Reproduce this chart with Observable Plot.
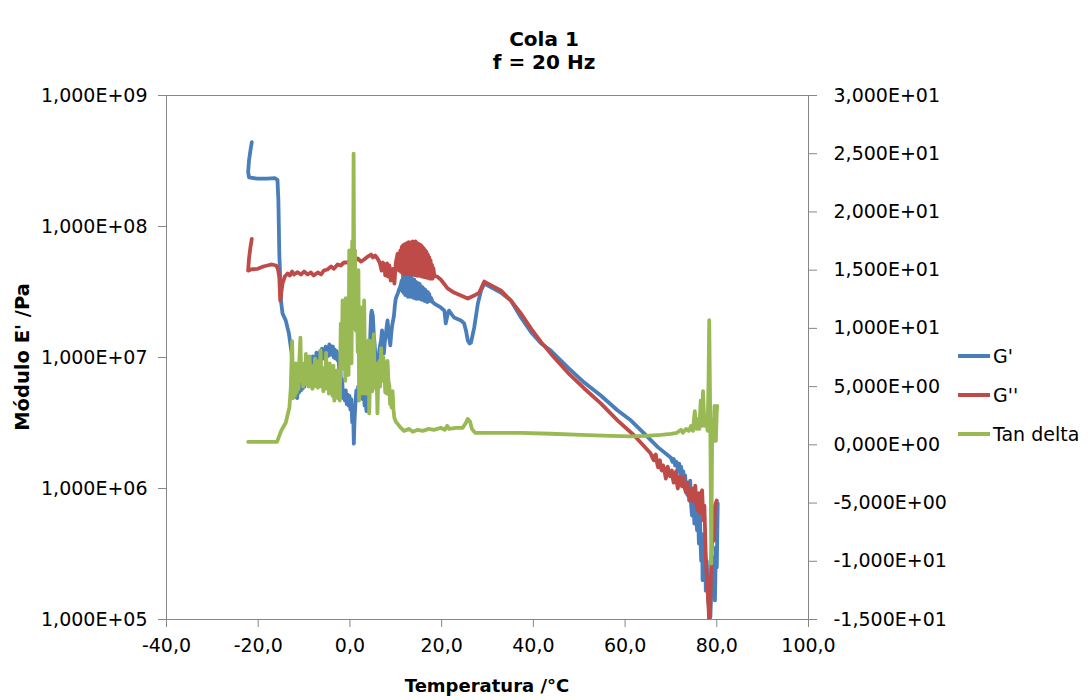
<!DOCTYPE html>
<html><head><meta charset="utf-8">
<script src="https://cdn.jsdelivr.net/npm/d3@7"></script>
<script src="https://cdn.jsdelivr.net/npm/@observablehq/plot@0.6"></script>
<style>
body{margin:0;background:#fff;font-family:"DejaVu Sans",sans-serif;color:#000}
#wrap{position:relative;width:1088px;height:700px;overflow:hidden}
#title{position:absolute;left:0;top:28px;width:1088px;text-align:center;font-weight:bold;font-size:20px;line-height:23px}
#chart{position:absolute;left:0;top:80px}
#xtitle{position:absolute;left:287px;width:400px;top:675px;text-align:center;font-weight:bold;font-size:18px}
#ytitle{position:absolute;left:22px;top:357px;transform:translate(-50%,-50%) rotate(-90deg);white-space:nowrap;font-weight:bold;font-size:19.5px}
.leg{position:absolute;left:958px;font-size:19px;display:flex;align-items:center;height:24px;white-space:nowrap}
.sw{display:inline-block;width:32px;height:4px;margin-right:3px}
</style></head>
<body><div id="wrap">
<div id="title">Cola 1<br>f = 20 Hz</div>
<div id="chart"></div>
<div id="xtitle">Temperatura /°C</div>
<div id="ytitle">Módulo E' /Pa</div>
<div id="legend"></div>
</div>
<script>
// ---- data (temperature °C, value) ----
const seriesNames = ["G'", "G''", "Tan delta"];
const seriesColors = ["#4A7EBB", "#BE4B48", "#98B954"];
const leftTicks = [1e5, 1e6, 1e7, 1e8, 1e9];
const rightTicks = [-15, -10, -5, 0, 5, 10, 15, 20, 25, 30];
const xTicks = [-40, -20, 0, 20, 40, 60, 80, 100];

const gPrime = [[-21.4,4.4e8],[-21.7,3.8e8],[-22.0,3.2e8],[-22.2,2.6e8],[-22.0,2.37e8],[-20.3,2.32e8],[-18.1,2.32e8],[-16.4,2.34e8],[-15.8,2.27e8],[-15.6,1.58e8],[-15.4,6.2e7],[-15.0,2.64e7],[-14.7,2.17e7],[-14.0,1.92e7],[-13.3,1.52e7],[-12.7,1.07e7],
[-12.5,6.7e6],[-12.3,5.2e6],[-12.1,6.3e6],[-11.9,5.0e6],[-11.7,6.1e6],[-11.5,4.9e6],[-11.3,6.7e6],[-11.1,5.4e6],[-10.9,6.2e6],[-10.7,5.6e6],[-10.5,6.9e6],[-10.3,5.8e6],[-10.1,7.2e6],[-9.9,6.0e6],[-9.7,8.2e6],[-9.5,6.5e6],[-9.3,7.8e6],[-9.1,6.9e6],[-8.9,9.5e6],[-8.7,7.5e6],[-8.5,9.0e6],[-8.3,8.0e6],[-8.1,1.02e7],[-7.9,8.4e6],[-7.7,9.8e6],[-7.5,8.5e6],[-7.3,1.09e7],[-7.1,9.0e6],[-6.9,1.05e7],[-6.7,9.2e6],[-6.5,1.12e7],[-6.3,9.5e6],[-6.1,1.17e7],[-5.9,9.8e6],[-5.7,1.15e7],[-5.5,1.0e7],[-5.3,1.21e7],[-5.1,1.02e7],[-4.9,1.18e7],[-4.7,1.03e7],[-4.5,1.26e7],[-4.3,1.05e7],[-4.1,1.22e7],[-3.9,1.05e7],[-3.7,1.21e7],[-3.5,1.0e7],[-3.3,1.15e7],[-3.1,9.8e6],[-2.9,1.12e7],[-2.7,9.5e6],[-2.5,1.05e7],[-2.3,7.7e6],[-2.1,8.5e6],[-1.9,6.1e6],[-1.7,6.8e6],[-1.5,4.9e6],[-1.3,5.6e6],[-1.1,4.7e6],[-0.9,5.6e6],[-0.7,4.4e6],[-0.5,5.2e6],[-0.3,4.3e6],[-0.1,5.1e6],[0.1,4.0e6],[0.3,4.8e6],[0.5,3.2e6],[0.7,3.8e6],[0.85,2.2e6],[1.0,3.3e6],[1.2,4.5e6],[1.4,5.6e6],[1.6,4.7e6],[1.8,6.0e6],[2.0,5.0e6],[2.2,6.4e6],[2.4,5.4e6],[2.6,6.7e6],[2.8,4.8e6],[3.0,5.6e6],[3.2,4.3e6],[3.4,5.1e6],[3.6,3.9e6],[3.8,4.6e6],[4.0,6.1e6],[4.2,9.0e6],[4.4,1.35e7],[4.6,2.1e7],[4.75,2.28e7],[5.0,2.09e7],[5.2,1.5e7],[5.4,1.24e7],[5.6,9.5e6],[5.8,8.5e6],[6.0,7.6e6],[6.2,9.5e6],[6.4,1.13e7],[6.6,1.25e7],[6.8,1.35e7],[7.0,1.61e7],[7.2,1.3e7],[7.4,1.07e7],[7.6,1.3e7],[7.8,1.47e7],[8.0,1.7e7],[8.2,1.92e7],[8.4,1.6e7],[8.6,1.40e7],[8.8,1.24e7],[9.0,1.5e7],[9.2,1.75e7],[9.4,1.9e7],[9.6,2.09e7],[9.8,2.5e7],[10.0,2.82e7],[10.3,3.0e7],[10.5,3.13e7],[10.7,3.3e7],[10.9,3.42e7],[11.1,3.6e7],[11.3,3.87e7],
[11.45,3.2e7],[11.6,4.3e7],[11.75,3.1e7],[11.9,4.4e7],[12.05,3.0e7],[12.2,4.2e7],[12.35,3.1e7],[12.5,4.1e7],[12.65,2.9e7],[12.8,4.2e7],[12.95,3.0e7],[13.1,4.0e7],[13.25,2.9e7],[13.4,4.1e7],[13.55,3.0e7],[13.7,3.9e7],[13.85,2.85e7],[14.0,3.95e7],[14.15,2.9e7],[14.3,3.8e7],[14.45,2.8e7],[14.6,3.75e7],[14.75,2.9e7],[14.9,3.7e7],[15.05,2.8e7],[15.2,3.65e7],[15.35,2.85e7],[15.5,3.5e7],[15.65,2.75e7],[15.8,3.45e7],[15.95,2.8e7],[16.1,3.35e7],[16.25,2.7e7],[16.4,3.3e7],[16.55,2.75e7],[16.7,3.2e7],[16.85,2.65e7],[17.0,3.15e7],[17.15,2.7e7],[17.3,3.05e7],[17.5,2.7e7],[17.7,2.85e7],[18.0,2.65e7],[18.4,2.58e7],
[19.8,2.41e7],[20.6,2.28e7],[20.9,1.82e7],[21.3,2.13e7],[21.6,2.28e7],[22.7,2.02e7],[24.2,1.92e7],[24.9,1.82e7],[25.3,1.61e7],[25.7,1.35e7],[26.1,1.28e7],[26.4,1.30e7],[27.1,1.69e7],[27.9,2.58e7],[28.6,3.25e7],[29.3,3.67e7],[30.8,3.44e7],[32.9,3.13e7],[35.1,2.72e7],[37.3,2.02e7],[39.5,1.56e7],[41.7,1.28e7],[43.8,1.13e7],[47.5,8.4e6],[51.1,6.44e6],[54.7,5.13e6],[58.4,3.94e6],[61.3,3.30e6],[64.2,2.62e6],[67.2,2.06e6],[70.0,1.72e6],
[70.3,1.6e6],[70.6,1.68e6],[70.9,1.5e6],[71.2,1.6e6],[71.5,1.4e6],[71.8,1.55e6],[72.0,1.3e6],[72.2,1.47e6],[72.5,1.2e6],[72.7,1.35e6],[72.9,1.1e6],[73.1,1.26e6],[73.3,9.5e5],[73.5,1.1e6],[73.6,8.9e5],[73.8,1.0e6],[74.0,8.1e5],[74.2,1.15e6],[74.4,7.5e5],[74.6,6.2e5],[74.8,9.7e5],[75.0,7.0e5],[75.1,5.4e5],[75.3,8.1e5],[75.5,6.0e5],[75.7,4.8e5],[75.9,6.5e5],[76.1,3.8e5],[76.3,6.8e5],[76.5,3.5e5],[76.6,2.8e5],[76.8,4.5e5],[76.9,2.0e5],[77.1,4.0e5],[77.3,2.5e5],[77.4,2.2e5],[77.5,3.2e5],[77.6,1.66e5],[77.8,2.8e5],[78.0,1.8e5],[78.1,1.4e5],[78.35,1.17e5],[78.6,1.04e5],[78.8,1.66e5],[79.0,3.0e5],[79.1,2.5e5],[79.3,1.8e5],[79.4,2.2e5],[79.6,1.4e5],[79.8,3.55e5],[80.0,2.5e5],[80.2,7.7e5]];

const gDouble = [[-21.4,8.05e7],[-21.7,6.95e7],[-22.0,5.7e7],[-22.2,4.6e7],[-21.6,4.7e7],[-20.1,4.75e7],[-18.9,4.95e7],[-18.0,5.04e7],[-17.0,5.13e7],[-16.1,5.04e7],[-15.7,4.75e7],[-15.4,4.08e7],[-15.2,2.72e7],[-14.9,3.25e7],[-14.7,3.67e7],[-14.2,4.15e7],[-13.6,4.38e7],[-13.1,4.23e7],[-12.6,4.53e7],[-12.2,4.30e7],[-11.4,4.48e7],[-10.7,4.30e7],[-10.0,4.53e7],[-9.2,4.30e7],[-8.5,4.46e7],[-7.9,4.23e7],[-7.0,4.46e7],[-6.3,4.30e7],[-5.7,4.61e7],[-4.9,4.70e7],[-4.1,4.95e7],[-3.5,4.75e7],[-2.7,5.13e7],[-2.0,5.04e7],[-1.3,5.31e7],[-0.5,5.31e7],[0.2,5.60e7],[0.9,5.40e7],[1.7,5.70e7],[2.4,5.40e7],[3.1,5.60e7],[3.9,5.90e7],[4.6,6.11e7],[5.0,5.80e7],[5.5,6.01e7],[6.0,5.70e7],[6.5,5.31e7],[6.9,4.61e7],[7.2,5.31e7],[7.5,5.13e7],[7.7,4.23e7],[8.1,5.22e7],[8.3,4.15e7],[8.6,5.04e7],[8.9,3.87e7],[9.3,4.75e7],[9.7,3.67e7],[10.0,5.31e7],[10.4,6.2e7],[10.7,4.61e7],
[11.0,6.56e7],[11.15,4.5e7],[11.3,7.0e7],[11.45,4.4e7],[11.6,7.2e7],[11.75,4.4e7],[11.9,7.3e7],[12.05,4.3e7],[12.2,7.4e7],[12.35,4.4e7],[12.5,7.5e7],[12.65,4.35e7],[12.8,7.6e7],[12.95,4.4e7],[13.1,7.5e7],[13.25,4.3e7],[13.4,7.6e7],[13.55,4.35e7],[13.7,7.7e7],[13.85,4.3e7],[14.0,7.6e7],[14.15,4.25e7],[14.3,7.7e7],[14.45,4.3e7],[14.6,7.5e7],[14.75,4.2e7],[14.9,7.4e7],[15.05,4.25e7],[15.2,7.3e7],[15.35,4.2e7],[15.5,7.2e7],[15.65,4.15e7],[15.8,7.0e7],[15.95,4.15e7],[16.1,6.8e7],[16.25,4.1e7],[16.4,6.6e7],[16.55,4.1e7],[16.7,6.4e7],[16.85,4.05e7],[17.0,6.1e7],[17.15,4.05e7],[17.3,5.8e7],[17.45,4.0e7],[17.6,5.5e7],[17.75,4.0e7],[17.9,5.1e7],[18.05,4.0e7],[18.2,4.8e7],[18.4,4.2e7],
[19.0,4.15e7],[19.8,3.94e7],[21.3,3.37e7],[22.7,3.13e7],[24.2,2.97e7],[25.7,2.82e7],[27.1,2.97e7],[28.2,3.13e7],[29.3,3.80e7],[30.8,3.55e7],[32.9,3.25e7],[35.1,2.72e7],[37.3,2.17e7],[39.5,1.66e7],[41.7,1.31e7],[43.8,1.07e7],[47.5,7.67e6],[51.1,5.8e6],[54.7,4.46e6],[58.4,3.30e6],[62.0,2.54e6],[65.6,1.85e6],
[66.0,1.7e6],[66.3,1.64e6],[66.5,1.78e6],[66.7,1.82e6],[67.0,1.55e6],[67.2,1.45e6],[67.4,1.6e6],[67.6,1.64e6],[67.8,1.45e6],[68.0,1.37e6],[68.3,1.5e6],[68.5,1.42e6],[68.7,1.3e6],[68.9,1.19e6],[69.1,1.35e6],[69.3,1.47e6],[69.6,1.3e6],[69.8,1.24e6],[70.0,1.32e6],[70.2,1.37e6],[70.4,1.2e6],[70.6,1.11e6],[70.9,1.28e6],[71.1,1.35e6],[71.3,1.1e6],[71.5,1.0e6],[71.8,1.15e6],[72.0,1.24e6],[72.2,1.08e6],[72.4,1.04e6],[72.6,1.15e6],[72.8,1.21e6],[73.0,1.0e6],[73.3,9.3e5],[73.5,1.05e6],[73.7,1.11e6],[73.9,9.0e5],[74.1,8.1e5],[74.3,9.5e5],[74.6,1.0e6],[74.8,8.0e5],[75.0,8.5e5],[75.2,9.5e5],[75.3,1.05e6],[75.6,7.5e5],[75.8,6.8e5],[76.0,8.5e5],[76.1,9.2e5],[76.3,6.5e5],[76.4,7.4e5],[76.6,9.0e5],[76.8,9.7e5],[77.0,6.5e5],[77.1,5.7e5],[77.3,7.4e5],[77.5,4.0e5],[77.6,3.0e5],[77.8,2.2e5],[78.0,1.66e5],[78.2,1.28e5],[78.35,9.0e4],[78.6,1.4e5],[78.8,2.8e5],[79.1,5.4e5],[79.4,4.0e5],[79.6,7.4e5],[80.0,8.1e5]];

const tanDelta = [[-22.2,0.26],[-15.9,0.26],[-15.0,1.2],[-14.0,1.9],[-13.2,3.2],[-12.9,4.9],
[-12.6,8.9],[-12.4,4.0],[-12.2,6.5],[-12.0,4.2],[-11.8,7.0],[-11.6,4.5],[-11.4,6.0],[-11.2,4.8],[-11.0,7.5],[-10.8,9.2],[-10.6,5.5],[-10.4,7.0],[-10.2,5.0],[-10.0,6.5],[-9.8,5.2],[-9.6,7.8],[-9.4,5.8],[-9.2,7.0],[-9.0,5.0],[-8.8,7.6],[-8.6,5.5],[-8.4,6.8],[-8.2,4.8],[-8.0,6.5],[-7.8,5.0],[-7.6,7.4],[-7.4,5.5],[-7.2,6.5],[-7.0,4.9],[-6.8,7.2],[-6.6,5.0],[-6.4,8.1],[-6.2,5.6],[-6.0,6.6],[-5.8,4.6],[-5.6,6.0],[-5.4,4.8],[-5.2,7.9],[-5.0,5.2],[-4.8,6.4],[-4.6,4.4],[-4.4,7.0],[-4.2,4.6],[-4.0,6.2],[-3.8,4.2],[-3.6,6.8],[-3.4,3.8],[-3.2,6.0],[-3.0,4.4],[-2.8,6.4],[-2.6,4.0],[-2.4,5.2],[-2.2,3.8],[-2.0,10.4],[-1.8,6.5],[-1.6,12.4],[-1.4,7.5],[-1.2,9.4],[-1.0,5.5],[-0.9,12.6],[-0.7,7.0],[-0.5,9.8],[-0.3,6.0],[-0.15,16.7],[0.0,8.0],[0.2,14.5],[0.35,7.0],[0.5,17.5],[0.65,10.0],[0.8,25.0],[0.95,12.0],[1.1,16.7],[1.3,9.8],[1.5,14.0],[1.7,8.0],[1.85,15.0],[2.0,3.8],[2.2,9.0],[2.4,11.8],[2.6,6.0],[2.8,4.4],[3.0,9.5],[3.1,12.4],[3.3,6.0],[3.5,4.4],[3.7,8.0],[3.9,6.5],[4.05,9.0],[4.2,2.7],[4.4,6.0],[4.6,8.9],[4.75,5.5],[4.9,4.6],[5.05,8.0],[5.2,9.5],[5.35,6.0],[5.5,4.9],[5.7,7.0],[5.85,5.5],[6.0,2.7],[6.2,6.0],[6.4,7.2],[6.6,5.0],[6.8,8.3],[7.0,6.0],[7.1,5.5],[7.3,7.5],[7.5,6.6],[7.7,4.5],[7.9,6.0],[8.05,4.4],[8.2,7.2],[8.4,5.5],[8.6,5.1],[8.75,3.5],[8.9,4.5],[9.1,3.2],[9.3,4.6],[9.5,3.0],[9.7,2.3],[10.0,2.0],[10.4,1.8],
[11.1,1.46],[11.8,1.2],[12.9,1.37],[13.7,1.12],[14.8,1.29],[15.9,1.2],[17.2,1.37],[18.3,1.29],[19.8,1.46],[20.7,1.29],[21.2,1.63],[21.6,1.37],[23.1,1.46],[24.6,1.46],[25.3,1.89],[25.7,2.23],[26.2,1.98],[26.6,1.37],[27.3,1.03],[30.8,1.03],[37.3,1.03],[43.8,0.95],[50.4,0.86],[56.9,0.77],[61.3,0.73],[64.5,0.77],[67.8,0.86],[70.0,0.95],[71.3,1.03],[72.2,1.29],[72.6,1.03],[73.3,1.37],[73.9,1.2],[74.4,1.63],[74.8,1.2],[75.2,2.9],[75.6,1.37],[75.9,2.2],[76.2,1.37],[76.5,3.8],[76.8,1.63],[77.0,4.6],[77.3,1.63],[77.6,2.5],[78.0,1.2],[78.2,5.5],[78.35,10.7],[78.6,1.2],[78.8,-10.2],[79.0,2.1],[79.3,0.34],[79.5,3.35],[79.8,0.34],[80.0,2.9],[80.1,3.35]];

// ---- dual-axis mapping: tan delta axis (-15..30) onto the log modulus axis (1e5..1e9) ----
const gMin = 1e5, gMax = 1e9, tMin = -15, tMax = 30;
const tanToG = t => gMin * Math.pow(gMax / gMin, (t - tMin) / (tMax - tMin));

function fmtE(v) {
  const [m, e] = v.toExponential(3).split("e");
  const n = +e;
  return m.replace(".", ",") + "E" + (n < 0 ? "-" : "+") + String(Math.abs(n)).padStart(2, "0");
}

const axisGrey = "#868686";
const chart = Plot.plot({
  width: 1088, height: 620,
  marginLeft: 166, marginRight: 280, marginTop: 15, marginBottom: 81,
  style: {fontFamily: "DejaVu Sans", fontSize: "19px", color: "#000", background: "transparent", overflow: "visible"},
  x: {domain: [-40, 100]},
  y: {type: "log", domain: [gMin, gMax]},
  marks: [
    Plot.frame({stroke: axisGrey, strokeWidth: 1}),
    Plot.axisX(xTicks, {tickSize: 8, tickPadding: 11, stroke: axisGrey, fill: "#000",
      tickFormat: d => d.toFixed(1).replace(".", ","), label: null}),
    Plot.axisY(leftTicks, {anchor: "left", tickSize: 8, tickPadding: 11, stroke: axisGrey, fill: "#000",
      tickFormat: fmtE, label: null}),
    Plot.axisY(rightTicks.map(tanToG), {anchor: "right", tickSize: 8, stroke: axisGrey,
      tickFormat: () => "", label: null}),
    Plot.text(rightTicks, {y: d => tanToG(d), frameAnchor: "right", dx: 25, textAnchor: "start",
      text: d => fmtE(d), fill: "#000", fontSize: 19}),
    Plot.line(gPrime, {x: d => d[0], y: d => d[1], stroke: seriesColors[0], strokeWidth: 3.8, clip: true}),
    Plot.line(gDouble, {x: d => d[0], y: d => d[1], stroke: seriesColors[1], strokeWidth: 3.8, clip: true}),
    Plot.line(tanDelta, {x: d => d[0], y: d => tanToG(d[1]), stroke: seriesColors[2], strokeWidth: 3.8, clip: true})
  ]
});
document.getElementById("chart").appendChild(chart);

const legendTops = [344, 383, 422];
const legend = document.getElementById("legend");
seriesNames.forEach((name, i) => {
  const row = document.createElement("div");
  row.className = "leg";
  row.style.top = legendTops[i] + "px";
  const sw = document.createElement("span");
  sw.className = "sw";
  sw.style.background = seriesColors[i];
  row.appendChild(sw);
  row.appendChild(document.createTextNode(name));
  legend.appendChild(row);
});
</script>
</body></html>
